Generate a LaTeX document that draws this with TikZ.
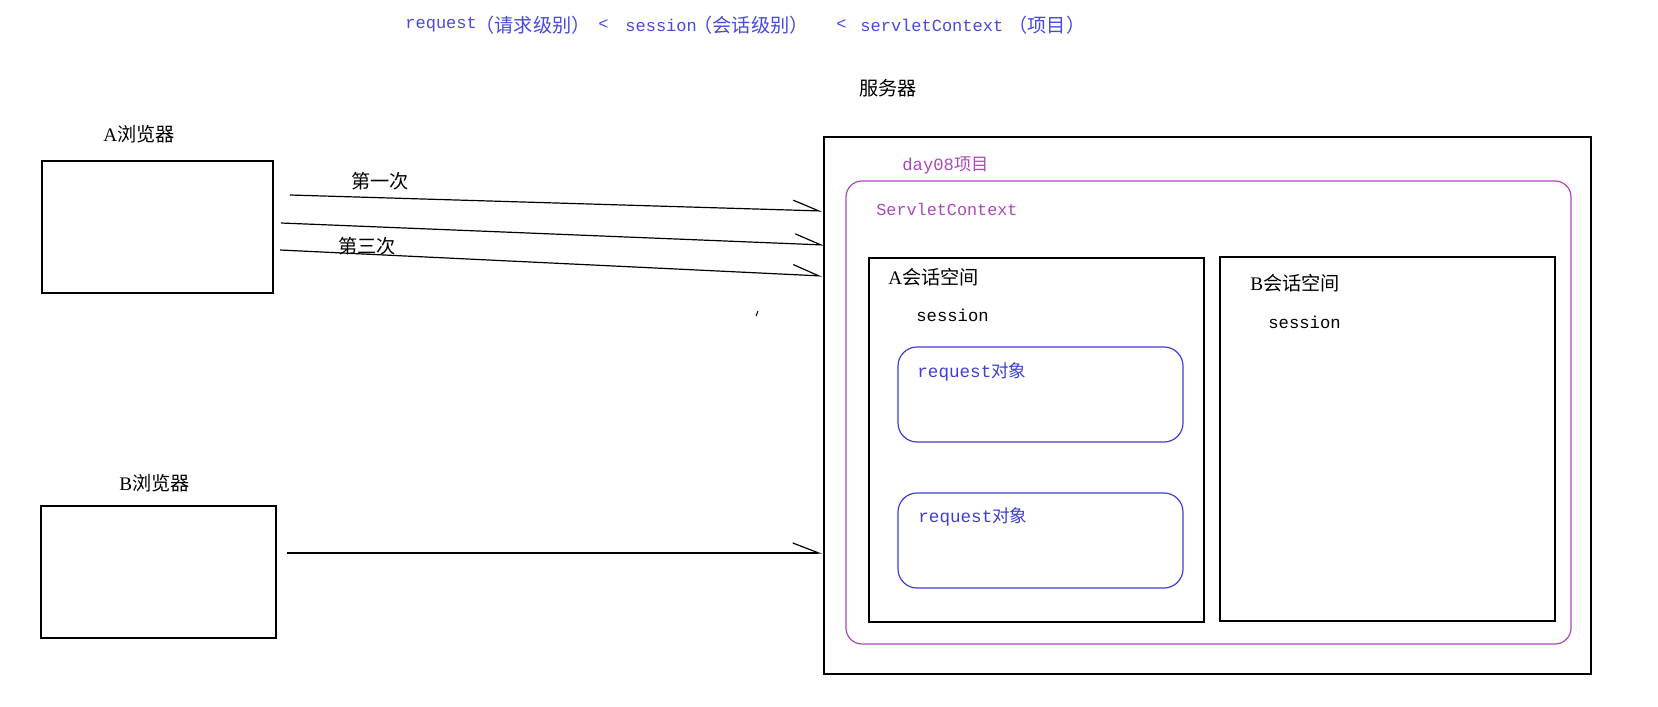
\documentclass[tikz,border=0pt]{standalone}
\usepackage{fontspec}
\setmainfont{Liberation Serif}
\setmonofont{Liberation Mono}
\newfontfamily\cjk{Noto Sans CJK SC}
\usetikzlibrary{arrows.meta,fit}
\definecolor{tblue}{RGB}{72,72,228}
\definecolor{pur}{RGB}{172,72,188}
\definecolor{rblue}{RGB}{62,62,214}
\begin{document}
\begin{tikzpicture}[x=0.5pt,y=-0.5pt,
  box/.style={draw, line width=0.65pt, inner sep=0pt},
  ctxbox/.style={draw=pur, line width=0.6pt, rounded corners=8pt, inner sep=0pt},
  reqbox/.style={draw=rblue, line width=0.6pt, rounded corners=9.5pt, inner sep=0pt},
  conn/.style={line width=0.6pt, -{Straight Barb[harpoon, length=13pt, width=10pt, line width=0.6pt]}},
  lbl/.style={inner sep=0pt, anchor=west, font=\fontsize{9.6}{11}\selectfont},
  ttl/.style={inner sep=0pt, anchor=west, text=tblue, font=\fontsize{8.5}{10}\selectfont},
  ttlcn/.style={ttl, font=\fontsize{9.6}{11}\selectfont},
]
\useasboundingbox (0,0) rectangle (1658,706);

% title
\node[ttl] (t1) at (405,25) {\ttfamily request};
\node[ttlcn] (t2) at (475,25) {\cjk （请求级别）};
\node[ttl] (t3) at (598,25) {\ttfamily <};
\node[ttl] (t4) at (625,25) {\ttfamily session};
\node[ttlcn] (t5) at (693,25) {\cjk （会话级别）};
\node[ttl] (t6) at (836,25) {\ttfamily <};
\node[ttl] (t7) at (860,25) {\ttfamily servletContext};
\node[ttlcn] (t8) at (1008,25) {\cjk （项目）};

% browsers
\node[lbl] (alab) at (103,134) {A\cjk 浏览器};
\node[box, fit={(42,161) (273,293)}] (A) {};
\node[lbl] (blab) at (119,483) {B\cjk 浏览器};
\node[box, fit={(41,506) (276,638)}] (B) {};

% server
\node[lbl, anchor=center] (slab) at (888,88) {\cjk 服务器};
\node[box, fit={(824,137) (1591,674)}] (S) {};
\node[lbl, text=pur, font=\fontsize{8.6}{10}\selectfont] (dlab) at (902,165) {\ttfamily day08\cjk 项目};
\node[ctxbox, fit={(846,181) (1571,644)}] (C) {};
\node[lbl, text=pur, font=\fontsize{8.4}{10}\selectfont] (clab) at (876,209) {\ttfamily ServletContext};

% A session
\node[box, fit={(869,258) (1204,622)}] (SA) {};
\node[lbl] (salab) at (888,277) {A\cjk 会话空间};
\node[lbl, font=\fontsize{8.6}{11}\selectfont] (sas) at (916,315) {\ttfamily session};
\node[reqbox, fit={(898,347) (1183,442)}] (R1) {};
\node[lbl, text=rblue, font=\fontsize{8.8}{10}\selectfont] (r1lab) at (917,372) {\ttfamily request\cjk 对象};
\node[reqbox, fit={(898,493) (1183,588)}] (R2) {};
\node[lbl, text=rblue, font=\fontsize{8.8}{10}\selectfont] (r2lab) at (918,517) {\ttfamily request\cjk 对象};

% B session
\node[box, fit={(1220,257) (1555,621)}] (SB) {};
\node[lbl] (sblab) at (1250,283) {B\cjk 会话空间};
\node[lbl, font=\fontsize{8.6}{11}\selectfont] (sbs) at (1268,322) {\ttfamily session};

% connectors
\coordinate (a1s) at (290,195);
\coordinate (a1e) at (822,211);
\coordinate (a2s) at (281,223);
\coordinate (a2e) at (824,245);
\coordinate (a3s) at (280,250);
\coordinate (a3e) at (822,276);
\coordinate (bs) at (287,553);
\coordinate (be) at (822,553);
\draw[conn] (a1s) -- (a1e);
\draw[conn] (a2s) -- (a2e);
\draw[conn] (a3s) -- (a3e);
\draw[conn] (bs) -- (be);
\node[lbl] (first) at (351,181) {\cjk 第一次};
\node[lbl] (third) at (338,246) {\cjk 第三次};

% stray tick
\coordinate (tk1) at (756,316);
\coordinate (tk2) at (758,311);
\draw[line width=0.5pt] (tk1) -- (tk2);
\end{tikzpicture}
\end{document}
